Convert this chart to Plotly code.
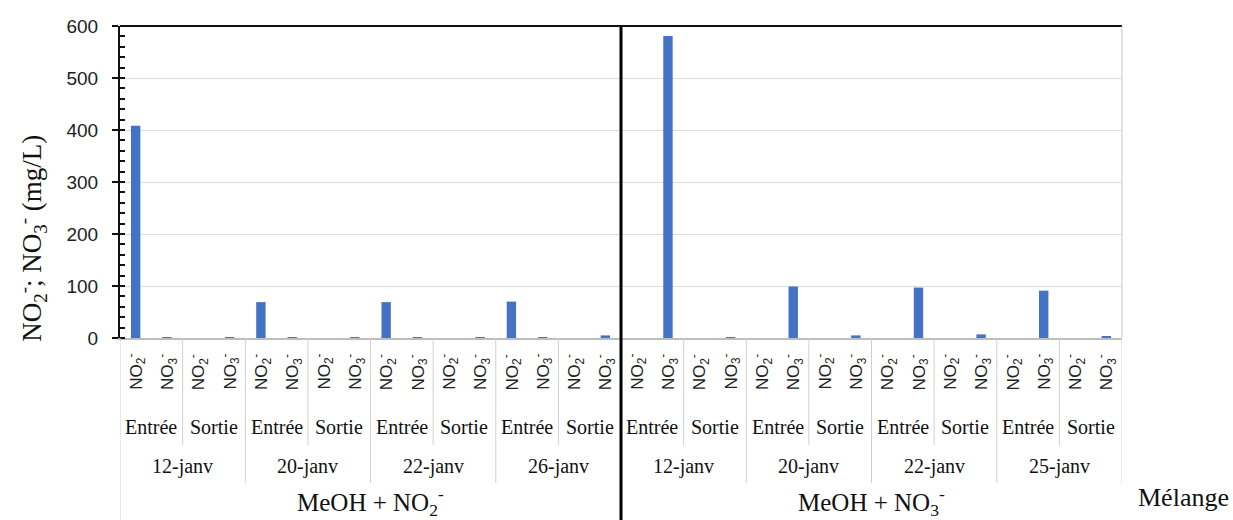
import plotly.graph_objects as go

# Category hierarchy (outer -> inner)
groups = ["MeOH + NO<sub>2</sub><sup>-</sup>", "MeOH + NO<sub>3</sub><sup>-</sup>"]
dates = [["12-janv", "20-janv", "22-janv", "26-janv"],
         ["12-janv", "20-janv", "22-janv", "25-janv"]]
points = ["Entrée", "Sortie"]
species = ["NO<sub>2</sub><sup>-</sup>", "NO<sub>3</sub><sup>-</sup>"]

# Concentrations (mg/L), in category order
values_meoh_no2 = [408, 1.5, 0, 0.5, 69, 1.5, 0, 0.5, 69, 1.5, 0, 0.5, 70, 1, 0, 5]
values_meoh_no3 = [0, 581, 0, 1, 0, 99, 0, 5, 0, 97, 0, 7, 0, 91, 0, 3]

y_ticks = [0, 100, 200, 300, 400, 500, 600]
axis_title = "NO<sub>2</sub><sup>-</sup>; NO<sub>3</sub><sup>-</sup> (mg/L)"
outer_title = "Mélange"

values = values_meoh_no2 + values_meoh_no3
n = len(values)
xs = list(range(n))

BLUE = "#4472C4"
SERIF = "Liberation Serif, Times New Roman, serif"
SANS = "Liberation Sans, Arial, sans-serif"

fig = go.Figure()
fig.add_trace(go.Bar(x=xs, y=values, width=0.3, marker_color=BLUE,
                     marker_line_width=0, showlegend=False))

# Pixel rows for the label bands below the axis, expressed in paper units
PLOT_TOP, PLOT_BOTTOM = 26, 338
H = PLOT_BOTTOM - PLOT_TOP


def py(pix):
    return (PLOT_BOTTOM - pix) / H


shapes = []
annotations = []

n_sp = len(species)
n_pt = len(points)
per_date = n_sp * n_pt
per_group = per_date * len(dates[0])

# Innermost labels: species
for i in range(n):
    annotations.append(dict(x=i, y=py(372), xref="x", yref="paper",
                            text=species[i % n_sp], textangle=-90, showarrow=False,
                            font=dict(family=SANS, size=17, color="#222"),
                            xanchor="center", yanchor="middle"))

# Sampling point labels and separators
for k in range(n // n_sp):
    annotations.append(dict(x=k * n_sp + (n_sp - 1) / 2, y=py(427), xref="x", yref="paper",
                            text=points[k % n_pt], showarrow=False,
                            font=dict(family=SERIF, size=20, color="#111"),
                            xanchor="center", yanchor="middle"))
    b = k * n_sp - 0.5
    if k > 0 and k * n_sp % per_date != 0:
        shapes.append(dict(type="line", xref="x", yref="paper", x0=b, x1=b,
                           y0=0, y1=py(445), line=dict(color="#d0d0d0", width=1)))

# Date labels and separators
for g in range(len(groups)):
    for d, lab in enumerate(dates[g]):
        start = g * per_group + d * per_date
        annotations.append(dict(x=start + (per_date - 1) / 2, y=py(467), xref="x", yref="paper",
                                text=lab, showarrow=False,
                                font=dict(family=SERIF, size=20, color="#111"),
                                xanchor="center", yanchor="middle"))
        if d > 0:
            b = start - 0.5
            shapes.append(dict(type="line", xref="x", yref="paper", x0=b, x1=b,
                               y0=0, y1=py(483), line=dict(color="#d0d0d0", width=1)))

# Group labels
for g, lab in enumerate(groups):
    annotations.append(dict(x=g * per_group + (per_group - 1) / 2, y=py(502), xref="x", yref="paper",
                            text=lab, showarrow=False,
                            font=dict(family=SERIF, size=25, color="#111"),
                            xanchor="center", yanchor="middle"))

# Outer edges of the category band
shapes.append(dict(type="line", xref="x", yref="paper", x0=-0.5, x1=-0.5,
                   y0=0, y1=py(520), line=dict(color="#d0d0d0", width=1)))
shapes.append(dict(type="line", xref="x", yref="paper", x0=n - 0.5, x1=n - 0.5,
                   y0=0, y1=py(483), line=dict(color="#d0d0d0", width=1)))
# Group divider
gb = per_group - 0.5
shapes.append(dict(type="line", xref="x", yref="paper", x0=gb, x1=gb,
                   y0=1, y1=py(520), line=dict(color="#000", width=3)))
# Top frame line
shapes.append(dict(type="line", xref="paper", yref="paper", x0=0, x1=1,
                   y0=1, y1=1, line=dict(color="#111", width=2)))
# Right frame line
shapes.append(dict(type="line", xref="paper", yref="paper", x0=1, x1=1,
                   y0=0, y1=1, line=dict(color="#c8c8c8", width=1)))

annotations.append(dict(x=1.061, y=py(497), xref="paper", yref="paper",
                        text=outer_title, showarrow=False,
                        font=dict(family=SERIF, size=26, color="#111"),
                        xanchor="center", yanchor="middle"))
annotations.append(dict(x=-0.088, y=py(238), xref="paper", yref="paper",
                        text=axis_title, textangle=-90, showarrow=False,
                        font=dict(family=SERIF, size=27, color="#111"),
                        xanchor="center", yanchor="middle"))

fig.update_layout(
    width=1233, height=520,
    margin=dict(l=120, r=111, t=PLOT_TOP, b=520 - PLOT_BOTTOM),
    paper_bgcolor="white", plot_bgcolor="white",
    bargap=0.7,
    shapes=shapes, annotations=annotations,
    xaxis=dict(range=[-0.5, n - 0.5], showticklabels=False, showgrid=False,
               zeroline=False, showline=True, linecolor="#bdbdbd", linewidth=2,
               ticks="", fixedrange=True),
    yaxis=dict(range=[0, 600], tickvals=y_ticks, showgrid=True, gridcolor="#dcdcdc",
               gridwidth=1, zeroline=False, showline=True, linecolor="#111", linewidth=2,
               ticks="outside", ticklen=6, tickwidth=2, tickcolor="#111",
               ticklabelstandoff=10,
               tickfont=dict(family=SANS, size=19, color="#222"),
               minor=dict(dtick=20, ticks="inside", ticklen=5, tickwidth=2,
                          tickcolor="#111", showgrid=False)),
)

fig.write_html("out.html")
